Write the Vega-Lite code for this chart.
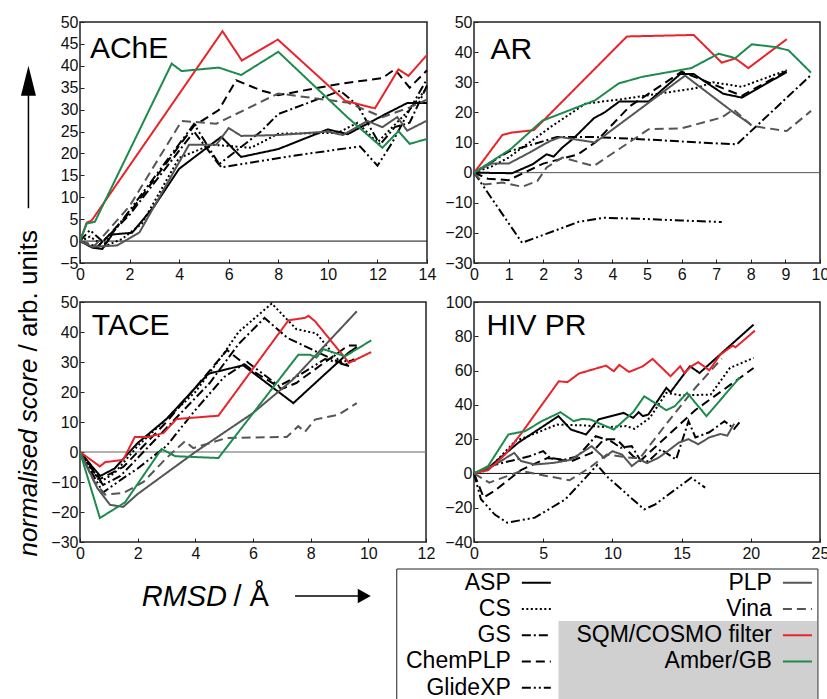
{
"$schema": "https://vega.github.io/schema/vega-lite/v6.json",
"autosize": {"type": "pad"},
"padding": {"left": 14, "top": 13, "right": 0, "bottom": 0},
"background": "white",
"config": {
  "font": "Liberation Sans",
  "view": {"stroke": "#222", "strokeWidth": 1.5},
  "axis": {"grid": false, "domain": false, "ticks": true, "tickSize": -4, "tickColor": "#222", "tickWidth": 1, "labelFontSize": 16, "labelColor": "#111", "labelFlush": false, "labelOverlap": false, "labelPadding": 6, "tickCount": 40, "format": "d"},
  "axisX": {"labelPadding": 7}
},
"datasets": {
  "ache": [
    {"m":"ASP","x":0,"y":0},{"m":"ASP","x":0.5,"y":-1.5},{"m":"ASP","x":0.9,"y":-1.8},{"m":"ASP","x":1.3,"y":1.5},{"m":"ASP","x":2.1,"y":1.9},{"m":"ASP","x":3,"y":8},{"m":"ASP","x":4,"y":16.5},{"m":"ASP","x":5.7,"y":23.8},{"m":"ASP","x":6.5,"y":19.2},{"m":"ASP","x":8,"y":21},{"m":"ASP","x":10,"y":25.5},{"m":"ASP","x":10.8,"y":24.4},{"m":"ASP","x":12.4,"y":29.2},{"m":"ASP","x":13.2,"y":31.5},{"m":"ASP","x":14,"y":31.5},
    {"m":"CS","x":0,"y":0},{"m":"CS","x":0.4,"y":1},{"m":"CS","x":1,"y":-1.2},{"m":"CS","x":1.7,"y":0.5},{"m":"CS","x":2.5,"y":4},{"m":"CS","x":4,"y":19},{"m":"CS","x":5.3,"y":22},{"m":"CS","x":6.9,"y":21.3},{"m":"CS","x":8,"y":24.5},{"m":"CS","x":10.4,"y":24.7},{"m":"CS","x":11.2,"y":27},{"m":"CS","x":12,"y":22.5},{"m":"CS","x":12.6,"y":26},{"m":"CS","x":13.3,"y":30},{"m":"CS","x":14,"y":35},
    {"m":"GS","x":0,"y":0},{"m":"GS","x":0.7,"y":-1.3},{"m":"GS","x":2,"y":6},{"m":"GS","x":4.6,"y":25},{"m":"GS","x":5.6,"y":17.5},{"m":"GS","x":7.3,"y":25},{"m":"GS","x":8,"y":29},{"m":"GS","x":10.5,"y":34.3},{"m":"GS","x":11.2,"y":31},{"m":"GS","x":12.1,"y":22},{"m":"GS","x":12.7,"y":26},{"m":"GS","x":13.3,"y":27},{"m":"GS","x":14,"y":35.5},
    {"m":"ChemPLP","x":0,"y":0},{"m":"ChemPLP","x":0.7,"y":-1.5},{"m":"ChemPLP","x":2,"y":6.5},{"m":"ChemPLP","x":4.6,"y":26.3},{"m":"ChemPLP","x":5.6,"y":29.9},{"m":"ChemPLP","x":6.3,"y":36.7},{"m":"ChemPLP","x":7.3,"y":34.4},{"m":"ChemPLP","x":8,"y":33.3},{"m":"ChemPLP","x":10.5,"y":35.9},{"m":"ChemPLP","x":12.2,"y":37.2},{"m":"ChemPLP","x":12.7,"y":39.2},{"m":"ChemPLP","x":13.3,"y":35},{"m":"ChemPLP","x":14,"y":39},
    {"m":"GlideXP","x":0,"y":0},{"m":"GlideXP","x":0.4,"y":2.5},{"m":"GlideXP","x":1,"y":-0.5},{"m":"GlideXP","x":2,"y":7},{"m":"GlideXP","x":4.6,"y":26.7},{"m":"GlideXP","x":5.7,"y":16.8},{"m":"GlideXP","x":7.3,"y":18.3},{"m":"GlideXP","x":9,"y":19.8},{"m":"GlideXP","x":11.3,"y":21.6},{"m":"GlideXP","x":12,"y":17.2},{"m":"GlideXP","x":12.6,"y":22.5},{"m":"GlideXP","x":13.3,"y":30},{"m":"GlideXP","x":14,"y":37},
    {"m":"PLP","x":0,"y":0},{"m":"PLP","x":0.5,"y":-1.3},{"m":"PLP","x":1.5,"y":-1},{"m":"PLP","x":2.4,"y":2},{"m":"PLP","x":4.4,"y":22},{"m":"PLP","x":5.5,"y":22},{"m":"PLP","x":6,"y":25.8},{"m":"PLP","x":6.5,"y":24},{"m":"PLP","x":8,"y":24.2},{"m":"PLP","x":10,"y":25},{"m":"PLP","x":10.6,"y":24.2},{"m":"PLP","x":11.6,"y":27.4},{"m":"PLP","x":12.2,"y":26},{"m":"PLP","x":12.8,"y":28.3},{"m":"PLP","x":13.2,"y":25.2},{"m":"PLP","x":14,"y":27.5},
    {"m":"Vina","x":0,"y":0},{"m":"Vina","x":0.6,"y":-1},{"m":"Vina","x":2,"y":8},{"m":"Vina","x":4.1,"y":27.4},{"m":"Vina","x":5.5,"y":26.8},{"m":"Vina","x":8,"y":33.7},{"m":"Vina","x":10.8,"y":31.6},{"m":"Vina","x":12.2,"y":28.3},{"m":"Vina","x":13.3,"y":30.5},{"m":"Vina","x":14,"y":32.3},
    {"m":"SQM/COSMO filter","x":0,"y":0},{"m":"SQM/COSMO filter","x":0.27,"y":4.2},{"m":"SQM/COSMO filter","x":0.47,"y":4.7},{"m":"SQM/COSMO filter","x":5.75,"y":47.9},{"m":"SQM/COSMO filter","x":6.53,"y":41.2},{"m":"SQM/COSMO filter","x":7.98,"y":46},{"m":"SQM/COSMO filter","x":10.7,"y":32},{"m":"SQM/COSMO filter","x":11.9,"y":30.3},{"m":"SQM/COSMO filter","x":12.85,"y":39.2},{"m":"SQM/COSMO filter","x":13.25,"y":37.7},{"m":"SQM/COSMO filter","x":14,"y":42.5},
    {"m":"Amber/GB","x":0,"y":0},{"m":"Amber/GB","x":0.27,"y":4},{"m":"Amber/GB","x":0.6,"y":4.4},{"m":"Amber/GB","x":3.7,"y":40.5},{"m":"Amber/GB","x":4.1,"y":38.8},{"m":"Amber/GB","x":5.6,"y":39.6},{"m":"Amber/GB","x":6.5,"y":37.9},{"m":"Amber/GB","x":8,"y":43.2},{"m":"Amber/GB","x":10.8,"y":28.2},{"m":"Amber/GB","x":12.2,"y":21.3},{"m":"Amber/GB","x":12.85,"y":25.1},{"m":"Amber/GB","x":13.3,"y":22.2},{"m":"Amber/GB","x":14,"y":23.3}
  ],
  "ar": [
    {"m":"ASP","x":0,"y":0},{"m":"ASP","x":1.1,"y":-0.2},{"m":"ASP","x":1.7,"y":2.8},{"m":"ASP","x":2.1,"y":6.1},{"m":"ASP","x":2.3,"y":5.3},{"m":"ASP","x":2.55,"y":8.3},{"m":"ASP","x":2.9,"y":11.6},{"m":"ASP","x":3.46,"y":18},{"m":"ASP","x":3.8,"y":20.2},{"m":"ASP","x":4.2,"y":23.6},{"m":"ASP","x":5.05,"y":23.6},{"m":"ASP","x":5.96,"y":32.7},{"m":"ASP","x":6.35,"y":32.7},{"m":"ASP","x":7.2,"y":26.2},{"m":"ASP","x":7.74,"y":24.9},{"m":"ASP","x":9.04,"y":33.4},
    {"m":"CS","x":0,"y":0},{"m":"CS","x":0.5,"y":2},{"m":"CS","x":1,"y":5},{"m":"CS","x":2.26,"y":15.5},{"m":"CS","x":3.22,"y":22.9},{"m":"CS","x":4.28,"y":24.4},{"m":"CS","x":6.4,"y":28},{"m":"CS","x":6.9,"y":30},{"m":"CS","x":7.74,"y":28.5},{"m":"CS","x":9.04,"y":34},
    {"m":"GS","x":0,"y":0},{"m":"GS","x":1,"y":7},{"m":"GS","x":2.4,"y":11.8},{"m":"GS","x":3.5,"y":11.8},{"m":"GS","x":5,"y":11},{"m":"GS","x":6.5,"y":10},{"m":"GS","x":7.6,"y":9.4},{"m":"GS","x":9.74,"y":32.4},
    {"m":"ChemPLP","x":0,"y":0},{"m":"ChemPLP","x":0.4,"y":-2},{"m":"ChemPLP","x":1,"y":-2.5},{"m":"ChemPLP","x":2,"y":3},{"m":"ChemPLP","x":3,"y":6},{"m":"ChemPLP","x":3.5,"y":10},{"m":"ChemPLP","x":4.5,"y":22},{"m":"ChemPLP","x":6,"y":33.5},{"m":"ChemPLP","x":7.74,"y":25.5},{"m":"ChemPLP","x":9.04,"y":33.8},
    {"m":"GlideXP","x":0,"y":0},{"m":"GlideXP","x":1.39,"y":-23.3},{"m":"GlideXP","x":3.03,"y":-16.3},{"m":"GlideXP","x":3.75,"y":-15},{"m":"GlideXP","x":5,"y":-15.4},{"m":"GlideXP","x":6,"y":-15.9},{"m":"GlideXP","x":7.16,"y":-16.4},
    {"m":"PLP","x":0,"y":0},{"m":"PLP","x":0.5,"y":3},{"m":"PLP","x":1,"y":3},{"m":"PLP","x":1.5,"y":6},{"m":"PLP","x":2.2,"y":10.5},{"m":"PLP","x":2.5,"y":11.8},{"m":"PLP","x":3.5,"y":10},{"m":"PLP","x":6.1,"y":32.2},{"m":"PLP","x":7.5,"y":20},{"m":"PLP","x":8,"y":16},
    {"m":"Vina","x":0,"y":0},{"m":"Vina","x":0.29,"y":-3.9},{"m":"Vina","x":0.82,"y":-3.3},{"m":"Vina","x":1.39,"y":-4.7},{"m":"Vina","x":1.83,"y":-2.8},{"m":"Vina","x":2.1,"y":1.7},{"m":"Vina","x":2.55,"y":5},{"m":"Vina","x":3.46,"y":2.2},{"m":"Vina","x":5.05,"y":14.4},{"m":"Vina","x":6,"y":14.7},{"m":"Vina","x":7.16,"y":18.3},{"m":"Vina","x":7.5,"y":21},{"m":"Vina","x":8.03,"y":15.5},{"m":"Vina","x":9.04,"y":13.8},{"m":"Vina","x":9.74,"y":20.5},
    {"m":"SQM/COSMO filter","x":0,"y":0},{"m":"SQM/COSMO filter","x":0.19,"y":2.8},{"m":"SQM/COSMO filter","x":0.82,"y":12.5},{"m":"SQM/COSMO filter","x":1.1,"y":13.3},{"m":"SQM/COSMO filter","x":1.73,"y":14.1},{"m":"SQM/COSMO filter","x":4.42,"y":45.2},{"m":"SQM/COSMO filter","x":6.35,"y":45.7},{"m":"SQM/COSMO filter","x":7.16,"y":36.5},{"m":"SQM/COSMO filter","x":7.55,"y":37.9},{"m":"SQM/COSMO filter","x":7.93,"y":34.7},{"m":"SQM/COSMO filter","x":9.04,"y":44.3},
    {"m":"Amber/GB","x":0,"y":0},{"m":"Amber/GB","x":1.06,"y":7.8},{"m":"Amber/GB","x":1.97,"y":17.2},{"m":"Amber/GB","x":3.5,"y":24},{"m":"Amber/GB","x":4.18,"y":29.6},{"m":"Amber/GB","x":4.86,"y":31.8},{"m":"Amber/GB","x":6.28,"y":34.7},{"m":"Amber/GB","x":7.07,"y":39.5},{"m":"Amber/GB","x":7.55,"y":38},{"m":"Amber/GB","x":8.03,"y":42.6},{"m":"Amber/GB","x":8.7,"y":41.7},{"m":"Amber/GB","x":9.09,"y":40.6},{"m":"Amber/GB","x":9.74,"y":33.2}
  ],
  "tace": [
    {"m":"ASP","x":0,"y":0},{"m":"ASP","x":0.7,"y":-8},{"m":"ASP","x":1.2,"y":-5.5},{"m":"ASP","x":2,"y":3},{"m":"ASP","x":3,"y":11},{"m":"ASP","x":4.45,"y":26.1},{"m":"ASP","x":5.66,"y":28.9},{"m":"ASP","x":7.4,"y":16.3},{"m":"ASP","x":8.5,"y":26},{"m":"ASP","x":9.3,"y":33},{"m":"ASP","x":9.6,"y":35},
    {"m":"CS","x":0,"y":0},{"m":"CS","x":0.7,"y":-10},{"m":"CS","x":1.2,"y":-7},{"m":"CS","x":2,"y":2},{"m":"CS","x":3,"y":11},{"m":"CS","x":4,"y":20},{"m":"CS","x":5,"y":33},{"m":"CS","x":5.5,"y":40},{"m":"CS","x":6.65,"y":49.5},{"m":"CS","x":7.5,"y":41},{"m":"CS","x":8.2,"y":39.5},{"m":"CS","x":9,"y":30.2},{"m":"CS","x":9.6,"y":30.5},
    {"m":"GS","x":0,"y":0},{"m":"GS","x":0.8,"y":-11},{"m":"GS","x":1.4,"y":-8},{"m":"GS","x":3,"y":8},{"m":"GS","x":4.5,"y":23},{"m":"GS","x":5.5,"y":36},{"m":"GS","x":6.4,"y":44.7},{"m":"GS","x":7.2,"y":38},{"m":"GS","x":8.3,"y":33},{"m":"GS","x":9.2,"y":29},{"m":"GS","x":9.5,"y":31},
    {"m":"ChemPLP","x":0,"y":0},{"m":"ChemPLP","x":0.7,"y":-9},{"m":"ChemPLP","x":1.5,"y":-5},{"m":"ChemPLP","x":3,"y":10},{"m":"ChemPLP","x":5.1,"y":34},{"m":"ChemPLP","x":6,"y":27},{"m":"ChemPLP","x":7,"y":21},{"m":"ChemPLP","x":7.5,"y":23},{"m":"ChemPLP","x":8.5,"y":30},{"m":"ChemPLP","x":9.3,"y":35.5},{"m":"ChemPLP","x":9.6,"y":35.5},
    {"m":"GlideXP","x":0,"y":0},{"m":"GlideXP","x":0.8,"y":-13.5},{"m":"GlideXP","x":1.5,"y":-8.7},{"m":"GlideXP","x":2,"y":-5.5},{"m":"GlideXP","x":3,"y":2},{"m":"GlideXP","x":4,"y":14},{"m":"GlideXP","x":5,"y":25},{"m":"GlideXP","x":5.8,"y":30},{"m":"GlideXP","x":6.9,"y":22},{"m":"GlideXP","x":7.5,"y":25},{"m":"GlideXP","x":8.5,"y":31},{"m":"GlideXP","x":9.4,"y":28.5},
    {"m":"PLP","x":0,"y":0},{"m":"PLP","x":0.6,"y":-12},{"m":"PLP","x":1.04,"y":-17.6},{"m":"PLP","x":1.5,"y":-18.3},{"m":"PLP","x":2,"y":-14},{"m":"PLP","x":4,"y":0},{"m":"PLP","x":6,"y":13},{"m":"PLP","x":7.4,"y":24.3},{"m":"PLP","x":9.6,"y":46.9},
    {"m":"Vina","x":0,"y":0},{"m":"Vina","x":0.5,"y":-10},{"m":"Vina","x":0.87,"y":-14.2},{"m":"Vina","x":1.5,"y":-13.7},{"m":"Vina","x":2.2,"y":-10},{"m":"Vina","x":3,"y":-2},{"m":"Vina","x":3.64,"y":3.6},{"m":"Vina","x":3.93,"y":1.3},{"m":"Vina","x":5.09,"y":4.7},{"m":"Vina","x":7.17,"y":5},{"m":"Vina","x":7.57,"y":8.6},{"m":"Vina","x":7.8,"y":6.7},{"m":"Vina","x":8.15,"y":10.8},{"m":"Vina","x":8.96,"y":12.4},{"m":"Vina","x":9.6,"y":16.3},
    {"m":"SQM/COSMO filter","x":0,"y":0},{"m":"SQM/COSMO filter","x":0.69,"y":-4.8},{"m":"SQM/COSMO filter","x":0.87,"y":-3.4},{"m":"SQM/COSMO filter","x":1.5,"y":-2.6},{"m":"SQM/COSMO filter","x":1.9,"y":5},{"m":"SQM/COSMO filter","x":2.37,"y":5},{"m":"SQM/COSMO filter","x":2.89,"y":6.3},{"m":"SQM/COSMO filter","x":3.35,"y":11},{"m":"SQM/COSMO filter","x":4.8,"y":12.1},{"m":"SQM/COSMO filter","x":7.23,"y":43.9},{"m":"SQM/COSMO filter","x":7.8,"y":44.7},{"m":"SQM/COSMO filter","x":7.92,"y":45.4},{"m":"SQM/COSMO filter","x":8.15,"y":43.6},{"m":"SQM/COSMO filter","x":9.33,"y":29.7},{"m":"SQM/COSMO filter","x":10.1,"y":33.3},
    {"m":"Amber/GB","x":0,"y":0},{"m":"Amber/GB","x":0.69,"y":-22},{"m":"Amber/GB","x":1.56,"y":-16.8},{"m":"Amber/GB","x":2.83,"y":1},{"m":"Amber/GB","x":3.3,"y":-1.4},{"m":"Amber/GB","x":4.8,"y":-2},{"m":"Amber/GB","x":7.57,"y":32.4},{"m":"Amber/GB","x":7.98,"y":32.4},{"m":"Amber/GB","x":8.2,"y":31.5},{"m":"Amber/GB","x":8.44,"y":34.3},{"m":"Amber/GB","x":9.19,"y":31.9},{"m":"Amber/GB","x":10.1,"y":37.2}
  ],
  "hiv": [
    {"m":"ASP","x":0,"y":0},{"m":"ASP","x":1,"y":3},{"m":"ASP","x":3.2,"y":17.9},{"m":"ASP","x":6.1,"y":33.4},{"m":"ASP","x":7,"y":25.6},{"m":"ASP","x":8.1,"y":22.7},{"m":"ASP","x":9,"y":31.5},{"m":"ASP","x":10.8,"y":35.3},{"m":"ASP","x":11.5,"y":32.4},{"m":"ASP","x":11.9,"y":35.7},{"m":"ASP","x":12.2,"y":33.4},{"m":"ASP","x":12.6,"y":34.4},{"m":"ASP","x":13.9,"y":49.9},{"m":"ASP","x":14.2,"y":47.4},{"m":"ASP","x":15.6,"y":62.5},{"m":"ASP","x":16.3,"y":58.6},{"m":"ASP","x":20.2,"y":86.8},
    {"m":"CS","x":0,"y":0},{"m":"CS","x":1,"y":2},{"m":"CS","x":3,"y":19},{"m":"CS","x":4,"y":22},{"m":"CS","x":6,"y":28.5},{"m":"CS","x":8,"y":28},{"m":"CS","x":9.5,"y":27},{"m":"CS","x":11,"y":27.6},{"m":"CS","x":11.6,"y":26},{"m":"CS","x":12.7,"y":32.4},{"m":"CS","x":13.9,"y":47},{"m":"CS","x":15,"y":45.5},{"m":"CS","x":17.1,"y":46},{"m":"CS","x":18.5,"y":61.6},{"m":"CS","x":20.2,"y":67.4},
    {"m":"GS","x":0,"y":0},{"m":"GS","x":0.6,"y":2},{"m":"GS","x":1.5,"y":5},{"m":"GS","x":3,"y":8},{"m":"GS","x":4,"y":10},{"m":"GS","x":5,"y":13},{"m":"GS","x":5.5,"y":9},{"m":"GS","x":6.5,"y":8},{"m":"GS","x":7.5,"y":10},{"m":"GS","x":8.8,"y":21.7},{"m":"GS","x":9.9,"y":18.8},{"m":"GS","x":10.6,"y":15},{"m":"GS","x":11.4,"y":15.9},{"m":"GS","x":12,"y":8},{"m":"GS","x":12.6,"y":7},{"m":"GS","x":13.5,"y":14},{"m":"GS","x":14.6,"y":8.1},{"m":"GS","x":15.5,"y":30.5},{"m":"GS","x":16,"y":21},{"m":"GS","x":17,"y":24},{"m":"GS","x":18.1,"y":30.5},{"m":"GS","x":18.8,"y":26},{"m":"GS","x":19.3,"y":31},
    {"m":"ChemPLP","x":0,"y":0},{"m":"ChemPLP","x":0.7,"y":-14},{"m":"ChemPLP","x":1.5,"y":-10},{"m":"ChemPLP","x":3.4,"y":2},{"m":"ChemPLP","x":5.3,"y":9},{"m":"ChemPLP","x":7,"y":7},{"m":"ChemPLP","x":8.5,"y":12},{"m":"ChemPLP","x":9.4,"y":20},{"m":"ChemPLP","x":10.3,"y":20},{"m":"ChemPLP","x":11.5,"y":10},{"m":"ChemPLP","x":12,"y":7.2},{"m":"ChemPLP","x":16,"y":37},{"m":"ChemPLP","x":20.2,"y":61.5},
    {"m":"GlideXP","x":0,"y":0},{"m":"GlideXP","x":0.5,"y":-15},{"m":"GlideXP","x":1.5,"y":-24},{"m":"GlideXP","x":2.4,"y":-28.7},{"m":"GlideXP","x":4.4,"y":-25.8},{"m":"GlideXP","x":6.6,"y":-15.1},{"m":"GlideXP","x":8,"y":-3},{"m":"GlideXP","x":8.9,"y":4.9},{"m":"GlideXP","x":9.7,"y":-2.5},{"m":"GlideXP","x":12.3,"y":-21},{"m":"GlideXP","x":13.1,"y":-18},{"m":"GlideXP","x":15.7,"y":-2.5},{"m":"GlideXP","x":16.7,"y":-8.3},
    {"m":"PLP","x":0,"y":0},{"m":"PLP","x":1.5,"y":5},{"m":"PLP","x":2.9,"y":12},{"m":"PLP","x":3.4,"y":7.2},{"m":"PLP","x":4.4,"y":5.2},{"m":"PLP","x":5.8,"y":6.2},{"m":"PLP","x":7,"y":8},{"m":"PLP","x":8.5,"y":15.9},{"m":"PLP","x":9.4,"y":9.1},{"m":"PLP","x":10,"y":13},{"m":"PLP","x":10.7,"y":11},{"m":"PLP","x":11.4,"y":4.3},{"m":"PLP","x":12,"y":8},{"m":"PLP","x":12.5,"y":6},{"m":"PLP","x":13.3,"y":9},{"m":"PLP","x":14,"y":13},{"m":"PLP","x":14.8,"y":18},{"m":"PLP","x":15.5,"y":20},{"m":"PLP","x":16.2,"y":17},{"m":"PLP","x":17,"y":21},{"m":"PLP","x":17.8,"y":23},{"m":"PLP","x":18.3,"y":22},{"m":"PLP","x":18.8,"y":29},
    {"m":"Vina","x":0,"y":0},{"m":"Vina","x":1.1,"y":-5.4},{"m":"Vina","x":3.4,"y":1.4},{"m":"Vina","x":6.9,"y":-4},{"m":"Vina","x":8.3,"y":3},{"m":"Vina","x":9.6,"y":11},{"m":"Vina","x":10.5,"y":10},{"m":"Vina","x":11.5,"y":9},{"m":"Vina","x":12,"y":9},{"m":"Vina","x":14,"y":30},{"m":"Vina","x":16,"y":50},{"m":"Vina","x":17.9,"y":67},
    {"m":"SQM/COSMO filter","x":0,"y":0},{"m":"SQM/COSMO filter","x":1.02,"y":1.9},{"m":"SQM/COSMO filter","x":2.24,"y":11},{"m":"SQM/COSMO filter","x":3.45,"y":23.7},{"m":"SQM/COSMO filter","x":6.13,"y":53.8},{"m":"SQM/COSMO filter","x":6.74,"y":53.2},{"m":"SQM/COSMO filter","x":7.59,"y":58.3},{"m":"SQM/COSMO filter","x":9.54,"y":62.9},{"m":"SQM/COSMO filter","x":10.1,"y":59.6},{"m":"SQM/COSMO filter","x":10.5,"y":63.3},{"m":"SQM/COSMO filter","x":11.2,"y":59.2},{"m":"SQM/COSMO filter","x":12.2,"y":62.5},{"m":"SQM/COSMO filter","x":12.9,"y":66.8},{"m":"SQM/COSMO filter","x":14.2,"y":56.7},{"m":"SQM/COSMO filter","x":14.9,"y":62.5},{"m":"SQM/COSMO filter","x":15.2,"y":58.6},{"m":"SQM/COSMO filter","x":15.7,"y":62.5},{"m":"SQM/COSMO filter","x":16.2,"y":64.9},{"m":"SQM/COSMO filter","x":17,"y":60.2},{"m":"SQM/COSMO filter","x":17.8,"y":69.3},{"m":"SQM/COSMO filter","x":18.7,"y":74.6},{"m":"SQM/COSMO filter","x":18.9,"y":73.6},{"m":"SQM/COSMO filter","x":20.3,"y":83.3},
    {"m":"Amber/GB","x":0,"y":0},{"m":"Amber/GB","x":1.02,"y":4.3},{"m":"Amber/GB","x":2.48,"y":22.7},{"m":"Amber/GB","x":3.7,"y":24.7},{"m":"Amber/GB","x":4.9,"y":30.5},{"m":"Amber/GB","x":6.25,"y":35.7},{"m":"Amber/GB","x":7.2,"y":30.5},{"m":"Amber/GB","x":7.8,"y":31.8},{"m":"Amber/GB","x":8.4,"y":31.5},{"m":"Amber/GB","x":10.1,"y":25.6},{"m":"Amber/GB","x":11.5,"y":35.7},{"m":"Amber/GB","x":12.3,"y":45},{"m":"Amber/GB","x":13.9,"y":36.9},{"m":"Amber/GB","x":14.5,"y":39.2},{"m":"Amber/GB","x":15.4,"y":47},{"m":"Amber/GB","x":16.8,"y":33.4},{"m":"Amber/GB","x":19.2,"y":56}
  ],
  "leg": [
    {"m":"ASP","col":1,"row":1},{"m":"CS","col":1,"row":2},{"m":"GS","col":1,"row":3},{"m":"ChemPLP","col":1,"row":4},{"m":"GlideXP","col":1,"row":5},
    {"m":"PLP","col":2,"row":1},{"m":"Vina","col":2,"row":2},{"m":"SQM/COSMO filter","col":2,"row":3},{"m":"Amber/GB","col":2,"row":4}
  ]
},
"columns": 2,
"spacing": {"row": 39, "column": 47},
"bounds": "flush",
"concat": [
  {
    "width": 347, "height": 241,
    "layer": [
      {"data": {"values": [{}]}, "mark": {"type": "rule", "color": "#111", "strokeWidth": 1}, "encoding": {"y": {"datum": 0, "type": "quantitative", "scale": {"domain": [-5, 50], "nice": false, "zero": false}}}},
      {"data": {"name": "ache"}, "mark": {"type": "line"},
       "encoding": {
         "x": {"field": "x", "type": "quantitative", "scale": {"domain": [0, 14], "nice": false, "zero": false}, "axis": {"values": [0,2,4,6,8,10,12,14], "tickCount": 40, "format": "d", "title": null, "labelOverlap": false}},
         "y": {"field": "y", "type": "quantitative", "scale": {"domain": [-5, 50], "nice": false, "zero": false}, "axis": {"values": [-5,0,5,10,15,20,25,30,35,40,45,50], "tickCount": 40, "format": "d", "title": null, "labelOverlap": false}},
         "color": {"field": "m", "type": "nominal", "scale": {"domain": ["ASP","CS","GS","ChemPLP","GlideXP","PLP","Vina","SQM/COSMO filter","Amber/GB"], "range": ["#000000","#000000","#000000","#000000","#000000","#555555","#555555","#e8232a","#1d8a4e"]}, "legend": null},
         "strokeDash": {"field": "m", "type": "nominal", "scale": {"domain": ["ASP","CS","GS","ChemPLP","GlideXP","PLP","Vina","SQM/COSMO filter","Amber/GB"], "range": [[1,0],[2,2.5],[9,3,2,3],[9,5],[9,3,2,3,2,3],[1,0],[9,5],[1,0],[1,0]]}, "legend": null},
         "strokeWidth": {"field": "m", "type": "ordinal", "scale": {"domain": ["ASP","CS","GS","ChemPLP","GlideXP","PLP","Vina","SQM/COSMO filter","Amber/GB"], "range": [2,2,2,2,2,2,2,2.6,2.6]}, "legend": null}
       }},
      {"data": {"values": [{"t": "AChE"}]}, "mark": {"type": "text", "align": "left", "baseline": "alphabetic", "fontSize": 30}, "encoding": {"x": {"datum": 0.4, "type": "quantitative"}, "y": {"datum": 41.8, "type": "quantitative"}, "text": {"field": "t"}}},
      {"data": {"values": [{"t": "normalised score"}]}, "mark": {"type": "text", "angle": 270, "align": "left", "baseline": "alphabetic", "fontSize": 26, "fontStyle": "italic"}, "encoding": {"x": {"datum": -1.747, "type": "quantitative"}, "y": {"datum": -72, "type": "quantitative"}, "text": {"field": "t"}}},
      {"data": {"values": [{"t": "/ arb. units"}]}, "mark": {"type": "text", "angle": 270, "align": "left", "baseline": "alphabetic", "fontSize": 26}, "encoding": {"x": {"datum": -1.747, "type": "quantitative"}, "y": {"datum": -25.2, "type": "quantitative"}, "text": {"field": "t"}}},
      {"data": {"values": [{}]}, "mark": {"type": "rule", "color": "black", "strokeWidth": 1.5}, "encoding": {"x": {"datum": -2.08, "type": "quantitative"}, "y": {"datum": 7.5, "type": "quantitative"}, "y2": {"datum": 33.5}}},
      {"data": {"values": [{}]}, "mark": {"type": "point", "shape": "M-0.5,1L0,-1L0.5,1Z", "size": 900, "filled": true, "color": "black", "opacity": 1, "strokeWidth": 0}, "encoding": {"x": {"datum": -2.08, "type": "quantitative"}, "y": {"datum": 36.6, "type": "quantitative"}}}
    ]
  },
  {
    "width": 346, "height": 241,
    "layer": [
      {"data": {"values": [{}]}, "mark": {"type": "rule", "color": "#555", "strokeWidth": 1}, "encoding": {"y": {"datum": 0, "type": "quantitative", "scale": {"domain": [-30, 50], "nice": false, "zero": false}}}},
      {"data": {"name": "ar"}, "mark": {"type": "line"},
       "encoding": {
         "x": {"field": "x", "type": "quantitative", "scale": {"domain": [0, 10], "nice": false, "zero": false}, "axis": {"values": [0,1,2,3,4,5,6,7,8,9,10], "tickCount": 40, "format": "d", "title": null, "labelOverlap": false}},
         "y": {"field": "y", "type": "quantitative", "scale": {"domain": [-30, 50], "nice": false, "zero": false}, "axis": {"values": [-30,-20,-10,0,10,20,30,40,50], "tickCount": 40, "format": "d", "title": null, "labelOverlap": false}},
         "color": {"field": "m", "type": "nominal", "scale": {"domain": ["ASP","CS","GS","ChemPLP","GlideXP","PLP","Vina","SQM/COSMO filter","Amber/GB"], "range": ["#000000","#000000","#000000","#000000","#000000","#555555","#555555","#e8232a","#1d8a4e"]}, "legend": null},
         "strokeDash": {"field": "m", "type": "nominal", "scale": {"domain": ["ASP","CS","GS","ChemPLP","GlideXP","PLP","Vina","SQM/COSMO filter","Amber/GB"], "range": [[1,0],[2,2.5],[9,3,2,3],[9,5],[9,3,2,3,2,3],[1,0],[9,5],[1,0],[1,0]]}, "legend": null},
         "strokeWidth": {"field": "m", "type": "ordinal", "scale": {"domain": ["ASP","CS","GS","ChemPLP","GlideXP","PLP","Vina","SQM/COSMO filter","Amber/GB"], "range": [2,2,2,2,2,2,2,2.6,2.6]}, "legend": null}
       }},
      {"data": {"values": [{"t": "AR"}]}, "mark": {"type": "text", "align": "left", "baseline": "alphabetic", "fontSize": 30}, "encoding": {"x": {"datum": 0.48, "type": "quantitative"}, "y": {"datum": 37.6, "type": "quantitative"}, "text": {"field": "t"}}}
    ]
  },
  {
    "width": 346, "height": 240,
    "layer": [
      {"data": {"values": [{}]}, "mark": {"type": "rule", "color": "#666", "strokeWidth": 1.2}, "encoding": {"y": {"datum": 0, "type": "quantitative", "scale": {"domain": [-30, 50], "nice": false, "zero": false}}}},
      {"data": {"name": "tace"}, "mark": {"type": "line"},
       "encoding": {
         "x": {"field": "x", "type": "quantitative", "scale": {"domain": [0, 12], "nice": false, "zero": false}, "axis": {"values": [0,2,4,6,8,10,12], "tickCount": 40, "format": "d", "title": null, "labelOverlap": false}},
         "y": {"field": "y", "type": "quantitative", "scale": {"domain": [-30, 50], "nice": false, "zero": false}, "axis": {"values": [-30,-20,-10,0,10,20,30,40,50], "tickCount": 40, "format": "d", "title": null, "labelOverlap": false}},
         "color": {"field": "m", "type": "nominal", "scale": {"domain": ["ASP","CS","GS","ChemPLP","GlideXP","PLP","Vina","SQM/COSMO filter","Amber/GB"], "range": ["#000000","#000000","#000000","#000000","#000000","#555555","#555555","#e8232a","#1d8a4e"]}, "legend": null},
         "strokeDash": {"field": "m", "type": "nominal", "scale": {"domain": ["ASP","CS","GS","ChemPLP","GlideXP","PLP","Vina","SQM/COSMO filter","Amber/GB"], "range": [[1,0],[2,2.5],[9,3,2,3],[9,5],[9,3,2,3,2,3],[1,0],[9,5],[1,0],[1,0]]}, "legend": null},
         "strokeWidth": {"field": "m", "type": "ordinal", "scale": {"domain": ["ASP","CS","GS","ChemPLP","GlideXP","PLP","Vina","SQM/COSMO filter","Amber/GB"], "range": [2,2,2,2,2,2,2,2.6,2.6]}, "legend": null}
       }},
      {"data": {"values": [{"t": "TACE"}]}, "mark": {"type": "text", "align": "left", "baseline": "alphabetic", "fontSize": 30}, "encoding": {"x": {"datum": 0.41, "type": "quantitative"}, "y": {"datum": 38.9, "type": "quantitative"}, "text": {"field": "t"}}}
    ]
  },
  {
    "width": 346, "height": 240,
    "layer": [
      {"data": {"values": [{}]}, "mark": {"type": "rule", "color": "#111", "strokeWidth": 1}, "encoding": {"y": {"datum": 0, "type": "quantitative", "scale": {"domain": [-40, 100], "nice": false, "zero": false}}}},
      {"data": {"name": "hiv"}, "mark": {"type": "line"},
       "encoding": {
         "x": {"field": "x", "type": "quantitative", "scale": {"domain": [0, 25], "nice": false, "zero": false}, "axis": {"values": [0,5,10,15,20,25], "tickCount": 40, "format": "d", "title": null, "labelOverlap": false}},
         "y": {"field": "y", "type": "quantitative", "scale": {"domain": [-40, 100], "nice": false, "zero": false}, "axis": {"values": [-40,-20,0,20,40,60,80,100], "tickCount": 40, "format": "d", "title": null, "labelOverlap": false}},
         "color": {"field": "m", "type": "nominal", "scale": {"domain": ["ASP","CS","GS","ChemPLP","GlideXP","PLP","Vina","SQM/COSMO filter","Amber/GB"], "range": ["#000000","#000000","#000000","#000000","#000000","#555555","#555555","#e8232a","#1d8a4e"]}, "legend": null},
         "strokeDash": {"field": "m", "type": "nominal", "scale": {"domain": ["ASP","CS","GS","ChemPLP","GlideXP","PLP","Vina","SQM/COSMO filter","Amber/GB"], "range": [[1,0],[2,2.5],[9,3,2,3],[9,5],[9,3,2,3,2,3],[1,0],[9,5],[1,0],[1,0]]}, "legend": null},
         "strokeWidth": {"field": "m", "type": "ordinal", "scale": {"domain": ["ASP","CS","GS","ChemPLP","GlideXP","PLP","Vina","SQM/COSMO filter","Amber/GB"], "range": [2,2,2,2,2,2,2,2.6,2.6]}, "legend": null}
       }},
      {"data": {"values": [{"t": "HIV PR"}]}, "mark": {"type": "text", "align": "left", "baseline": "alphabetic", "fontSize": 30}, "encoding": {"x": {"datum": 0.9, "type": "quantitative"}, "y": {"datum": 80.6, "type": "quantitative"}, "text": {"field": "t"}}}
    ]
  },
  {
    "width": 347, "height": 119,
    "view": {"stroke": null},
    "layer": [
      {"data": {"values": [{}]}, "mark": {"type": "rect", "color": "#d0d0d0"}, "encoding": {"x": {"datum": 1.1828, "type": "quantitative", "scale": {"domain": [-0.65, 0.679], "nice": false, "zero": false}, "axis": null}, "x2": {"datum": 2.1724}, "y": {"datum": 2.459, "type": "quantitative", "scale": {"domain": [0.935, 5.469], "reverse": true, "nice": false, "zero": false}, "axis": null}, "y2": {"datum": 5.8}}},
      {"data": {"values": [{}]}, "mark": {"type": "rect", "fillOpacity": 0, "stroke": "#222", "strokeWidth": 1}, "encoding": {"x": {"datum": 0.5632, "type": "quantitative", "scale": {"domain": [-0.65, 0.679], "nice": false, "zero": false}, "axis": null}, "x2": {"datum": 2.1762}, "y": {"datum": 0.478, "type": "quantitative", "scale": {"domain": [0.935, 5.469], "reverse": true, "nice": false, "zero": false}, "axis": null}, "y2": {"datum": 5.8}}},
      {"data": {"name": "leg"}, "mark": {"type": "text", "align": "right", "baseline": "middle", "fontSize": 23}, "encoding": {"x": {"field": "col", "type": "quantitative", "scale": {"domain": [-0.65, 0.679], "nice": false, "zero": false}, "axis": null}, "y": {"field": "row", "type": "quantitative", "scale": {"domain": [0.935, 5.469], "reverse": true, "nice": false, "zero": false}, "axis": null}, "text": {"field": "m"}}},
      {"data": {"name": "leg"}, "mark": {"type": "rule", "xOffset": 11, "x2Offset": 40},
       "encoding": {
         "x": {"field": "col", "type": "quantitative", "scale": {"domain": [-0.65, 0.679], "nice": false, "zero": false}, "axis": null},
         "x2": {"field": "col"},
         "y": {"field": "row", "type": "quantitative", "scale": {"domain": [0.935, 5.469], "reverse": true, "nice": false, "zero": false}, "axis": null},
         "color": {"field": "m", "type": "nominal", "scale": {"domain": ["ASP","CS","GS","ChemPLP","GlideXP","PLP","Vina","SQM/COSMO filter","Amber/GB"], "range": ["#000000","#000000","#000000","#000000","#000000","#555555","#555555","#e8232a","#1d8a4e"]}, "legend": null},
         "strokeDash": {"field": "m", "type": "nominal", "scale": {"domain": ["ASP","CS","GS","ChemPLP","GlideXP","PLP","Vina","SQM/COSMO filter","Amber/GB"], "range": [[1,0],[2,2.5],[9,3,2,3],[9,5],[9,3,2,3,2,3],[1,0],[9,5],[1,0],[1,0]]}, "legend": null},
         "strokeWidth": {"field": "m", "type": "ordinal", "scale": {"domain": ["ASP","CS","GS","ChemPLP","GlideXP","PLP","Vina","SQM/COSMO filter","Amber/GB"], "range": [2,2,2,2,2,2,2,2.6,2.6]}, "legend": null}
       }},
      {"data": {"values": [{"t": "RMSD"}]}, "mark": {"type": "text", "align": "left", "baseline": "alphabetic", "fontSize": 29, "fontStyle": "italic"}, "encoding": {"x": {"datum": -0.4138, "type": "quantitative", "scale": {"domain": [-0.65, 0.679], "nice": false, "zero": false}, "axis": null}, "y": {"datum": 1.888, "type": "quantitative", "scale": {"domain": [0.935, 5.469], "reverse": true, "nice": false, "zero": false}, "axis": null}, "text": {"field": "t"}}},
      {"data": {"values": [{"t": "/ Å"}]}, "mark": {"type": "text", "align": "left", "baseline": "alphabetic", "fontSize": 29}, "encoding": {"x": {"datum": -0.0625, "type": "quantitative"}, "y": {"datum": 1.888, "type": "quantitative"}, "text": {"field": "t"}}},
      {"data": {"values": [{}]}, "mark": {"type": "rule", "color": "black", "strokeWidth": 1.5}, "encoding": {"x": {"datum": 0.1736, "type": "quantitative"}, "x2": {"datum": 0.42}, "y": {"datum": 1.507, "type": "quantitative"}}},
      {"data": {"values": [{}]}, "mark": {"type": "point", "shape": "M-1,-1.1L1,0L-1,1.1Z", "size": 169, "filled": true, "color": "black", "opacity": 1, "strokeWidth": 0}, "encoding": {"x": {"datum": 0.4387, "type": "quantitative"}, "y": {"datum": 1.507, "type": "quantitative"}}}
    ]
  }
]
}
